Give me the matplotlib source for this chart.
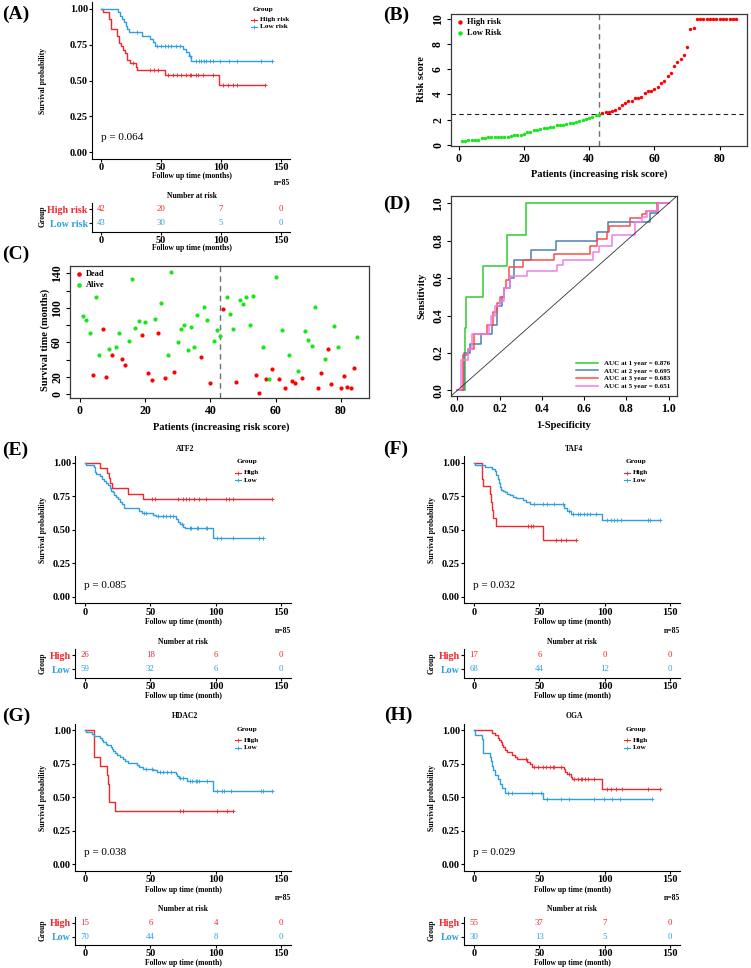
import numpy as np
import matplotlib.pyplot as plt
from matplotlib.lines import Line2D

W, H = 751, 968
plt.rcParams['font.family'] = ['Liberation Serif', 'DejaVu Serif']
plt.rcParams['font.weight'] = 'bold'

RED = '#F2262C'
BLUE = '#2E9FDF'
DOT_RED = '#FF0000'
DOT_GREEN = '#19E619'

# ---------------- data ----------------
# (A) risk model KM
a_high_t = [1.5, 7, 8, 13, 15, 17, 18, 20, 22, 24, 29, 30, 53, 98]
a_high_s = [0.976, 0.93, 0.86, 0.81, 0.76, 0.74, 0.71, 0.69, 0.64, 0.62, 0.595, 0.57, 0.54, 0.47]
a_high_c = [27, 41, 44, 47.6, 56, 60, 63, 67, 70.5, 74, 75, 79, 81, 85, 93, 102, 106, 110, 113, 137]
a_low_t = [14.5, 16, 17.5, 19, 20.5, 22, 23.5, 34, 40.7, 43, 45.4, 68.4, 71, 73, 75.3]
a_low_s = [0.977, 0.953, 0.93, 0.907, 0.884, 0.86, 0.837, 0.814, 0.79, 0.767, 0.744, 0.721, 0.698, 0.67, 0.635]
a_low_c = [29.6, 46.8, 50.3, 53, 56, 58.7, 62.8, 66, 74, 79, 81.6, 83.6, 85.5, 87.2, 90.5, 93.3,
           98.8, 106.6, 113.5, 133.4, 142.5]
a_risk_high = [42, 20, 7, 0]
a_risk_low = [43, 30, 5, 0]

# (B) risk score per patient
risk_low = [0.30, 0.32, 0.35, 0.38, 0.40, 0.42, 0.55, 0.58, 0.60, 0.62, 0.63, 0.63, 0.64, 0.65, 0.66,
            0.70, 0.75, 0.80, 0.82, 0.90, 1.00, 1.05, 1.15, 1.20, 1.25, 1.30, 1.30, 1.40, 1.45, 1.55,
            1.60, 1.60, 1.65, 1.70, 1.70, 1.80, 1.90, 2.00, 2.05, 2.10, 2.20, 2.35, 2.40]
risk_high = [2.50, 2.60, 2.62, 2.70, 2.75, 2.90, 3.20, 3.30, 3.50, 3.50, 3.70, 3.75, 3.80, 4.10, 4.25,
             4.30, 4.40, 4.60, 4.90, 5.10, 5.50, 5.70, 6.30, 6.60, 6.80, 7.10, 7.80, 9.20, 9.30] + [10.0] * 13
risk_cut = 2.43

# (C) survival time and status (1 = dead)
surv_time = [90, 85.6, 71, 21.6, 113, 44.7, 75.2, 19.3, 51.7, 44.7, 54.4, 71.3, 40.1, 33.2, 61.3,
             133, 77, 84.8, 68.6, 83.3, 24.3, 16.6, 86.8, 70.6, 106, 18.9, 45.5, 142, 25.5, 60.5,
             75.2, 79.8, 51.3, 78.3, 55.1, 92.2, 42.8, 101.4, 86, 13.1, 61.3, 74, 67.1, 98.3, 112,
             93.3, 75.2, 13.5, 108.8, 104, 112.6, 79.8, 113.4, 21.6, 0.8, 55.1, 17, 17.7, 29.3, 136,
             17.4, 73.7, 6.6, 45.1, 14.7, 12.3, 27, 18.9, 73.3, 62.5, 55.5, 101.4, 6.9, 23.9, 40.9,
             52.4, 12, 79, 55.1, 6.6, 21.2, 8.1, 7.3, 29.7, 66.7]
status = [0, 0, 0, 1, 0, 0, 1, 1, 0, 1, 0, 0, 1, 1, 0, 0, 0, 0, 1, 0, 1, 1, 0, 1, 0, 1, 0, 0, 1, 0,
          0, 0, 0, 0, 0, 0, 1, 0, 0, 1, 0, 0, 0, 1, 0, 0, 0, 1, 0, 0, 0, 0, 0, 1, 1, 0, 1, 0, 1, 0,
          1, 0, 1, 0, 1, 1, 0, 1, 0, 0, 0, 0, 1, 1, 0, 1, 1, 0, 0, 1, 1, 1, 1, 1, 0]

# (D) time-dependent ROC
roc_labels = ['AUC at 1 year = 0.876', 'AUC at 2 year = 0.695', 'AUC at 3 year = 0.683', 'AUC at 5 year = 0.651']
roc_colors = ['#2FCB2F', '#4682B4', '#FF4A4A', '#EE7EEE']
fpr1 = [0, 0.036, 0.036, 0.042, 0.042, 0.12, 0.12, 0.237, 0.237, 0.325, 0.325, 1.0]
tpr1 = [0, 0, 0.333, 0.333, 0.5, 0.5, 0.667, 0.667, 0.833, 0.833, 1.0, 1.0]
fpr2 = [0, 0.03, 0.03, 0.06, 0.06, 0.11, 0.11, 0.165, 0.165, 0.19, 0.19, 0.21, 0.21, 0.22, 0.22, 0.25,
        0.25, 0.27, 0.27, 0.35, 0.35, 0.466, 0.466, 0.663, 0.663, 0.711, 0.711, 0.91, 0.91, 0.951, 0.951, 1.0]
tpr2 = [0, 0, 0.2, 0.2, 0.25, 0.25, 0.3, 0.3, 0.35, 0.35, 0.45, 0.45, 0.5, 0.5, 0.55, 0.55,
        0.6, 0.6, 0.7, 0.7, 0.75, 0.75, 0.8, 0.8, 0.85, 0.85, 0.9, 0.9, 0.95, 0.95, 1.0, 1.0]
fpr3 = [0, 0.027, 0.027, 0.05, 0.05, 0.08, 0.08, 0.14, 0.14, 0.17, 0.17, 0.19, 0.19, 0.2, 0.2, 0.22,
        0.22, 0.23, 0.23, 0.245, 0.245, 0.31, 0.31, 0.46, 0.46, 0.63, 0.63, 0.66, 0.66, 0.71, 0.71,
        0.72, 0.72, 0.817, 0.817, 0.875, 0.875, 0.894, 0.894, 0.946, 0.946, 1.0]
tpr3 = [0, 0, 0.19, 0.19, 0.22, 0.22, 0.3, 0.3, 0.35, 0.35, 0.42, 0.42, 0.47, 0.47, 0.5, 0.5,
        0.55, 0.55, 0.59, 0.59, 0.66, 0.66, 0.7, 0.7, 0.73, 0.73, 0.77, 0.77, 0.81, 0.81, 0.85,
        0.85, 0.88, 0.88, 0.92, 0.92, 0.945, 0.945, 0.96, 0.96, 1.0, 1.0]
fpr5 = [0, 0.015, 0.015, 0.05, 0.05, 0.07, 0.07, 0.15, 0.15, 0.16, 0.16, 0.18, 0.18, 0.2, 0.2, 0.22,
        0.22, 0.25, 0.25, 0.33, 0.33, 0.47, 0.47, 0.5, 0.5, 0.64, 0.64, 0.67, 0.67, 0.73, 0.73, 0.84,
        0.84, 0.875, 0.875, 0.9, 0.9, 0.95, 0.95, 1.0]
tpr5 = [0, 0, 0.16, 0.16, 0.22, 0.22, 0.3, 0.3, 0.35, 0.35, 0.4, 0.4, 0.45, 0.45, 0.48, 0.48,
        0.55, 0.55, 0.61, 0.61, 0.64, 0.64, 0.67, 0.67, 0.7, 0.7, 0.74, 0.74, 0.77, 0.77, 0.83, 0.83,
        0.9, 0.9, 0.93, 0.93, 0.96, 0.96, 1.0, 1.0]

# (E) ATF2
e_high_t = [11.5, 16.6, 18, 19, 20.7, 33, 44.6]
e_high_s = [0.962, 0.923, 0.885, 0.846, 0.808, 0.769, 0.731]
e_high_c = [51, 53.6, 71.4, 75, 77.3, 79.8, 83.7, 87.5, 92.6, 108, 110, 113, 143]
e_low_t = [1, 7, 7.5, 8, 8.5, 11.5, 13, 14.5, 16, 17.5, 19, 20, 21.5, 22.5, 24, 25.5, 27, 28.5, 30,
           41, 43.5, 52, 54, 69.4, 71.4, 72.7, 74.7, 76.5, 98]
e_low_s = [0.983, 0.966, 0.949, 0.932, 0.915, 0.898, 0.88, 0.864, 0.847, 0.83, 0.81, 0.79, 0.78, 0.762,
           0.745, 0.728, 0.71, 0.69, 0.66, 0.64, 0.627, 0.61, 0.6, 0.58, 0.56, 0.54, 0.52, 0.51, 0.44]
e_low_c = [45, 47, 56, 60, 62, 65, 67.6, 74, 80, 81, 85.5, 86.7, 92.6, 93.6, 101, 104, 113, 133, 136.5]
e_risk_high = [26, 18, 6, 0]
e_risk_low = [59, 32, 6, 0]

# (F) TAF4
f_high_t = [6.2, 6.5, 6.8, 12.4, 12.9, 14, 14.8, 16.6, 52.6]
f_high_s = [0.941, 0.882, 0.824, 0.765, 0.706, 0.647, 0.588, 0.529, 0.42]
f_high_c = [41.7, 43.8, 45, 62.7, 66.5, 70.3, 78.4]
f_low_t = [0.8, 8.3, 13.4, 16, 17, 18, 19, 20, 21, 22, 23.5, 25, 27.5, 30, 32, 37.4, 40, 42.5,
           68.6, 71, 74, 97.6]
f_low_s = [0.985, 0.97, 0.955, 0.94, 0.91, 0.88, 0.85, 0.82, 0.8, 0.79, 0.78, 0.77, 0.76, 0.745,
           0.735, 0.72, 0.705, 0.69, 0.66, 0.64, 0.62, 0.575]
f_low_c = [45.8, 52.6, 56, 61.5, 68, 72.8, 76, 79.7, 81.2, 84.2, 86.8, 88.8, 93, 102, 105, 107.5,
           109.5, 112.6, 132.8, 134.8, 142.4]
f_risk_high = [17, 6, 0, 0]
f_risk_low = [68, 44, 12, 0]

# (G) HDAC2
g_high_t = [6.6, 6.9, 7.2, 11.5, 16.6, 17.9, 18.3, 18.6, 23]
g_high_s = [0.933, 0.867, 0.8, 0.733, 0.667, 0.6, 0.533, 0.467, 0.4]
g_high_c = [72.7, 75.3, 101, 108.4, 113.5]
g_low_t = [0.8, 5, 7, 11.5, 12.8, 14, 16, 17, 19.6, 20.6, 21.7, 23, 24.3, 26.8, 28.8, 30.6, 33,
           39.5, 41.5, 44.6, 52.3, 55, 69.6, 70.6, 72, 77.8, 98.2]
g_low_s = [0.986, 0.971, 0.957, 0.943, 0.929, 0.914, 0.9, 0.886, 0.871, 0.857, 0.843, 0.829, 0.814,
           0.8, 0.786, 0.771, 0.757, 0.743, 0.729, 0.714, 0.7, 0.69, 0.675, 0.66, 0.645, 0.62, 0.55]
g_low_c = [47, 51, 57.4, 60, 62.5, 65.6, 72.7, 74.7, 80, 81.6, 85, 86, 87.2, 93, 101, 104.6, 106.4,
           112, 134.4, 136.5, 143]
g_risk_high = [15, 6, 4, 0]
g_risk_low = [70, 44, 8, 0]

# (H) OGA
h_high_t = [13.4, 16.4, 18, 19, 20.5, 21.5, 22.5, 24, 25.5, 29, 31, 33, 40.7, 42.5, 44.3, 68.6,
            69.6, 71, 74, 75.3, 97.6]
h_high_s = [0.982, 0.964, 0.945, 0.927, 0.909, 0.891, 0.873, 0.855, 0.836, 0.818, 0.8, 0.782, 0.764,
            0.745, 0.727, 0.709, 0.69, 0.67, 0.65, 0.635, 0.56]
h_high_c = [40, 46.3, 49.3, 52.6, 55, 58.4, 60.2, 61.5, 66.5, 72.8, 76.6, 79.7, 81.7, 83, 84.7,
            87.3, 91.8, 102, 105, 108.3, 113.3, 132.8, 142]
h_low_t = [0.8, 6.3, 6.6, 6.9, 7.2, 12, 12.8, 13.4, 14.6, 15.9, 18, 19.7, 21.5, 24, 52.6]
h_low_s = [0.967, 0.933, 0.9, 0.867, 0.833, 0.8, 0.767, 0.733, 0.7, 0.667, 0.633, 0.6, 0.567, 0.533, 0.49]
h_low_c = [26, 29, 44.3, 51.4, 56, 66.5, 72.8, 91.8, 99.4, 105.7, 112, 136]
h_risk_high = [55, 37, 7, 0]
h_risk_low = [30, 13, 5, 0]

risk_times = [0, 50, 100, 150]

# ---------------- figure ----------------
fig = plt.figure(figsize=(W / 100, H / 100), dpi=100)


def rect(l, t, r, b):
    return [l / W, 1 - b / H, (r - l) / W, (b - t) / H]


def ftext(x, y, s, **kw):
    fig.text(x / W, 1 - y / H, s, **kw)


def style_gg(ax, size=7.5):
    for side in ['top', 'right']:
        ax.spines[side].set_visible(False)
    for side in ['left', 'bottom']:
        ax.spines[side].set_linewidth(0.8)
    ax.tick_params(length=2, width=0.8, labelsize=size, pad=1)


def style_r(ax):
    for s in ax.spines.values():
        s.set_color('#3a3a3a')
        s.set_linewidth(0.9)
    ax.tick_params(length=3, width=0.8, labelsize=8.5, pad=2)


def km_panel(lay, dx, dy, high, low, names, counts, pval, xlab, title=None):
    l, t, r, b = lay['km']
    ax = fig.add_axes(rect(l + dx, t + dy, r + dx, b + dy))
    for (times, surv, cens), col in ((high, RED), (low, BLUE)):
        times = np.asarray(times)
        tt = np.r_[0, times, max(cens)]
        ss = np.r_[1, surv, surv[-1]]
        ax.step(tt, ss, where='post', color=col, lw=1)
        sc = np.r_[1, surv][np.searchsorted(times, cens, side='right')]
        ax.plot(cens, sc, ls='none', marker='+', ms=3.5, mew=0.6, color=col)
    ax.set_xlim(-7.5, 157.5)
    ax.set_ylim(-0.05, 1.05)
    ax.set_xticks(risk_times)
    ax.set_yticks([0, 0.25, 0.5, 0.75, 1.0])
    ax.set_yticklabels(['0.00', '0.25', '0.50', '0.75', '1.00'])
    style_gg(ax)

    l, t, r, b = lay['tab']
    tb = fig.add_axes(rect(l + dx, t + dy, r + dx, b + dy))
    tb.set_xlim(-7.5, 157.5)
    tb.set_ylim(*lay['tab_ylim'])
    tb.set_xticks(risk_times)
    tb.set_yticks([1, 0])
    tb.set_yticklabels(names)
    style_gg(tb)
    tb.tick_params(axis='y', labelsize=7.2)
    for lab, col in zip(tb.get_yticklabels(), [RED, BLUE]):
        lab.set_color(col)
    for y, row, col in zip([1, 0], counts, [RED, BLUE]):
        for tx, n in zip(risk_times, row):
            tb.text(tx, y, str(n), color=col, ha='center', va='center', fontsize=6.3, fontweight='normal')

    P = lambda key: (lay[key][0] + dx, lay[key][1] + dy)
    x, y = P('ylab')
    ftext(x, y, 'Survival probability', rotation=90, ha='center', va='center', fontsize=5.5)
    x, y = P('xlab')
    ftext(x, y, xlab, ha='center', va='center', fontsize=5.5)
    x, y = P('n85')
    ftext(x, y, 'n=85', ha='right', va='center', fontsize=5.5)
    x, y = P('nar')
    ftext(x, y, 'Number at risk', ha='center', va='center', fontsize=5.5)
    x, y = P('tylab')
    ftext(x, y, 'Group', rotation=90, ha='center', va='center', fontsize=5.5)
    x, y = P('txlab')
    ftext(x, y, xlab, ha='center', va='center', fontsize=5.5)
    x, y = P('p')
    ftext(x, y, 'p = ' + pval, ha='left', va='center', fontsize=8, fontweight='normal')
    x, y = P('leg')
    ftext(x, y, 'Group', ha='center', va='center', fontsize=5.3)
    mx = lay['leg_mx'] + dx
    for yy, nm, col in zip(lay['leg_rows'], names, [RED, BLUE]):
        fy = 1 - (yy + dy) / H
        fig.add_artist(Line2D([(mx - 3) / W, mx / W, (mx + 3) / W], [fy] * 3, color=col, lw=0.8,
                              marker='+', markevery=[1], ms=3.5, mew=0.6))
        ftext(lay['leg_tx'] + dx, yy + dy, nm, ha='left', va='center', fontsize=5.2)
    if title:
        x, y = P('title')
        ftext(x, y, title, ha='center', va='center', fontsize=5.5)


lay_a = dict(km=(92, 1.85, 290, 159.15), tab=(92, 203, 290, 232), tab_ylim=(-0.64, 1.43),
             ylab=(43, 81), xlab=(192, 176.5), n85=(290, 183.5), nar=(192, 196), tylab=(43, 216),
             txlab=(192, 248.5), leg=(263, 9.3), leg_mx=254, leg_tx=260, leg_rows=(20, 26.7),
             p=(101, 138))
lay_e = dict(km=(75.2, 456, 290.8, 603.4), tab=(75.2, 649, 290.8, 677.7), tab_ylim=(-0.62, 1.43),
             ylab=(43, 530), xlab=(183, 622), n85=(291, 631), nar=(183, 641.7), tylab=(43, 663),
             txlab=(183, 695.5), leg=(247, 462), leg_mx=238, leg_tx=244, leg_rows=(472.7, 480),
             p=(84, 585), title=(185, 449))

km_panel(lay_a, 0, 0, (a_high_t, a_high_s, a_high_c), (a_low_t, a_low_s, a_low_c),
         ['High risk', 'Low risk'], [a_risk_high, a_risk_low], '0.064', 'Follow up time (months)')
km_panel(lay_e, 0, 0, (e_high_t, e_high_s, e_high_c), (e_low_t, e_low_s, e_low_c),
         ['High', 'Low'], [e_risk_high, e_risk_low], '0.085', 'Follow up time (month)', 'ATF2')
km_panel(lay_e, 389, 0, (f_high_t, f_high_s, f_high_c), (f_low_t, f_low_s, f_low_c),
         ['High', 'Low'], [f_risk_high, f_risk_low], '0.032', 'Follow up time (month)', 'TAF4')
km_panel(lay_e, 0, 267.5, (g_high_t, g_high_s, g_high_c), (g_low_t, g_low_s, g_low_c),
         ['High', 'Low'], [g_risk_high, g_risk_low], '0.038', 'Follow up time (month)', 'HDAC2')
km_panel(lay_e, 389, 267.5, (h_high_t, h_high_s, h_high_c), (h_low_t, h_low_s, h_low_c),
         ['High', 'Low'], [h_risk_high, h_risk_low], '0.029', 'Follow up time (month)', 'OGA')

# (B) risk score distribution
ax = fig.add_axes(rect(451, 14, 747, 146))
n_low = len(risk_low)
x_low = np.arange(1, n_low + 1)
x_high = np.arange(n_low + 1, n_low + len(risk_high) + 1)
ax.scatter(x_high, risk_high, s=6, color=DOT_RED, lw=0, label='High risk', zorder=3)
ax.scatter(x_low, risk_low, s=6, color=DOT_GREEN, lw=0, label='Low Risk', zorder=3)
ax.axvline(n_low, ls=(0, (4, 3)), color='#707070', lw=1)
ax.axhline(risk_cut, ls=(0, (4, 3)), color='#222222', lw=0.8)
ax.set_xlim(-2.36, 88.36)
ax.set_ylim(-0.09, 10.39)
ax.set_xticks([0, 20, 40, 60, 80])
ax.set_yticks([0, 2, 4, 6, 8, 10])
ax.set_yticklabels(['0', '2', '4', '6', '8', '10'], rotation=90, va='center')
style_r(ax)
ax.legend(loc='upper left', frameon=False, fontsize=6, handletextpad=0.2, borderaxespad=0.3,
          labelspacing=0.35, markerscale=1.3, handlelength=1.2, borderpad=0.2)
ftext(422, 79, 'Risk score', rotation=90, ha='center', va='center', fontsize=7.5)
ftext(599, 174, 'Patients (increasing risk score)', ha='center', va='center', fontsize=7.5)

# (C) survival status
ax = fig.add_axes(rect(70, 266, 369, 398))
pid = np.arange(1, len(surv_time) + 1)
st = np.array(status)
stime = np.array(surv_time)
ax.scatter(pid[st == 1], stime[st == 1], s=9, color=DOT_RED, lw=0, label='Dead', zorder=3)
ax.scatter(pid[st == 0], stime[st == 0], s=9, color=DOT_GREEN, lw=0, label='Alive', zorder=3)
ax.axvline(n_low, ls=(0, (4, 3)), color='#707070', lw=1)
ax.set_xlim(-3.0, 88.6)
ax.set_ylim(-4.6, 148.5)
ax.set_xticks([0, 20, 40, 60, 80])
ax.set_yticks(np.arange(0, 141, 20))
ax.set_yticklabels(['0', '20', '', '60', '', '100', '', '140'], rotation=90, va='center')
style_r(ax)
ax.legend(loc='upper left', frameon=False, fontsize=6, handletextpad=0.2, borderaxespad=0.3,
          labelspacing=0.35, markerscale=1.1, handlelength=1.2, borderpad=0.2)
ftext(45, 340, 'Survival time (months)', rotation=90, ha='center', va='center', fontsize=7.5)
ftext(221, 427, 'Patients (increasing risk score)', ha='center', va='center', fontsize=7.5)

# (D) ROC
ax = fig.add_axes(rect(451, 196, 677, 396))
for fx, ty, col, lab in zip([fpr1, fpr2, fpr3, fpr5], [tpr1, tpr2, tpr3, tpr5], roc_colors, roc_labels):
    ax.plot(fx, ty, color=col, lw=1.1, label=lab)
ax.axline((0, 0), (1, 1), color='#333333', lw=0.6)
ax.set_xlim(-0.03, 1.04)
ax.set_ylim(-0.03, 1.04)
ax.set_xticks(np.arange(0, 1.01, 0.2))
ax.set_xticklabels(['0.0', '0.2', '0.4', '0.6', '0.8', '1.0'])
ax.set_yticks(np.arange(0, 1.01, 0.2))
ax.set_yticklabels(['0.0', '0.2', '0.4', '0.6', '0.8', '1.0'], rotation=90, va='center')
style_r(ax)
ax.legend(loc='lower right', frameon=False, fontsize=5, handlelength=3.2, handletextpad=0.8,
          labelspacing=0.25, borderaxespad=0.6)
ftext(422, 296, 'Sensitivity', rotation=90, ha='center', va='center', fontsize=7.5)
ftext(564, 425, '1-Specificity', ha='center', va='center', fontsize=7.5)

# panel letters
for lab, x, y in [('(A)', 2, 14.5), ('(B)', 383, 15), ('(C)', 2, 254), ('(D)', 383, 204),
                  ('(E)', 2, 450), ('(F)', 383, 449), ('(G)', 2, 716), ('(H)', 384, 715)]:
    ftext(x, y, lab, ha='left', va='center', fontsize=14)

fig.savefig('out.png', dpi=100)
